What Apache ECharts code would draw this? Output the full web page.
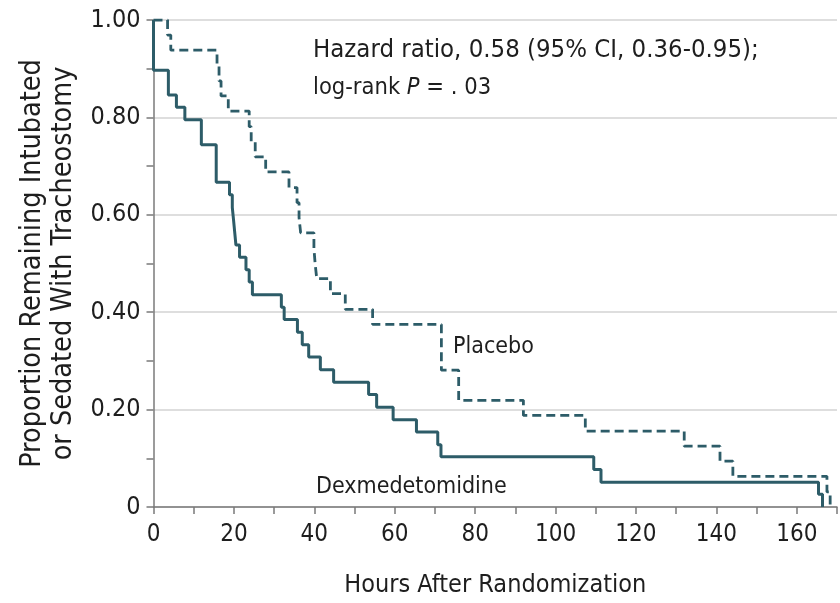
<!DOCTYPE html>
<html>
<head>
<meta charset="utf-8">
<script src="https://cdn.jsdelivr.net/npm/echarts@6/dist/echarts.min.js"></script>
<style>
  html, body { margin: 0; padding: 0; background: #fff; overflow: hidden; }
  #chart { width: 840px; height: 603px; }
</style>
</head>
<body>
<div id="chart"></div>
<script>
// Kaplan-Meier estimates: time of each step (hours) and proportion after that step
const dexTimes = [0, 0, 3.7, 5.7, 7.8, 11.9, 15.6, 18.9, 19.6, 19.9, 20.2, 20.5, 21.4, 23.0, 23.8, 24.6,
  31.8, 32.5, 35.8, 37.0, 38.6, 41.5, 44.8, 53.5, 55.5, 59.6, 65.4, 70.7, 71.5, 109.5, 111.3, 165.4, 166.4];
const dexSurv = [1.0, 0.897, 0.846, 0.821, 0.795, 0.744, 0.667, 0.641, 0.615, 0.590, 0.564, 0.538, 0.513, 0.487, 0.462, 0.436,
  0.410, 0.385, 0.359, 0.333, 0.308, 0.282, 0.256, 0.231, 0.205, 0.179, 0.154, 0.128, 0.103, 0.077, 0.051, 0.026, 0];

const plaTimes = [0, 3.5, 4.3, 15.8, 16.3, 16.8, 18.6, 23.8, 24.3, 25.3, 27.9, 33.7, 35.7, 36.2, 36.6,
  39.9, 40.2, 40.6, 44.0, 47.7, 54.5, 71.6, 75.9, 92.0, 107.4, 132.0, 140.9, 144.1, 167.5, 168.3];
const plaSurv = [1.0, 0.969, 0.938, 0.906, 0.875, 0.844, 0.813, 0.781, 0.750, 0.719, 0.688, 0.656, 0.625, 0.594, 0.563,
  0.531, 0.500, 0.469, 0.438, 0.406, 0.375, 0.281, 0.219, 0.188, 0.156, 0.125, 0.094, 0.063, 0.031, 0];

const xTitle = 'Hours After Randomization';
const yTitle = 'Proportion Remaining Intubated\nor Sedated With Tracheostomy';
const statLine1 = 'Hazard ratio, 0.58 (95% CI, 0.36-0.95);';
const groupNames = ['Dexmedetomidine', 'Placebo'];

const FONT = '"DejaVu Sans Condensed", "Liberation Sans Narrow", Roboto, sans-serif';
const LINE = '#2d5c68';
const AXIS = '#7a7a7a';
const TEXT = '#1e1e1e';

const zip = (t, s) => t.map((v, i) => [v, s[i]]);

const chart = echarts.init(document.getElementById('chart'), null, { renderer: 'canvas' });

chart.setOption({
  animation: false,
  backgroundColor: '#fff',
  textStyle: { fontFamily: FONT },
  grid: { left: 153.5, top: 20, width: 688.5, height: 491 },
  xAxis: {
    type: 'value', min: 0, max: 170, interval: 10,
    name: xTitle, nameLocation: 'middle', nameGap: 66,
    nameTextStyle: { fontSize: 25, color: TEXT, fontFamily: FONT },
    axisLine: { show: true, lineStyle: { color: AXIS, width: 1.5 } },
    axisTick: { show: true, length: 7, lineStyle: { color: AXIS, width: 1.5 } },
    axisLabel: {
      fontSize: 24, color: TEXT, margin: 16, fontFamily: FONT,
      formatter: v => (v % 20 === 0 && v <= 160) ? String(v) : ''
    },
    splitLine: { show: false }
  },
  yAxis: {
    type: 'value', min: 0, max: 1, interval: 0.2,
    name: yTitle, nameLocation: 'middle', nameGap: 63,
    nameTextStyle: { fontSize: 28.5, color: TEXT, lineHeight: 31, fontFamily: FONT },
    axisLine: { show: true, lineStyle: { color: AXIS, width: 1.5 } },
    axisTick: { show: true, length: 7, lineStyle: { color: AXIS, width: 1.5 } },
    minorTick: { show: true, splitNumber: 2, length: 7, lineStyle: { color: AXIS, width: 1.5 } },
    axisLabel: {
      fontSize: 25, color: TEXT, margin: 13, fontFamily: FONT,
      formatter: v => v === 0 ? '0' : v.toFixed(2)
    },
    splitLine: { show: true, lineStyle: { color: '#dedede', width: 2 } }
  },
  series: [
    {
      name: groupNames[1], type: 'line', step: 'end', symbol: 'none',
      data: zip(plaTimes, plaSurv),
      lineStyle: { color: LINE, width: 2.8, type: [9, 5] },
      z: 3
    },
    {
      name: groupNames[0], type: 'line', step: 'end', symbol: 'none',
      data: zip(dexTimes, dexSurv),
      lineStyle: { color: LINE, width: 3 },
      z: 4
    }
  ],
  graphic: [
    {
      type: 'text', left: 313, top: 37,
      style: { text: statLine1, font: '25.5px ' + FONT, fill: TEXT }
    },
    {
      type: 'text', left: 313, top: 76,
      style: {
        text: '{n|log-rank }{i|P}{n| = . 03}',
        rich: {
          n: { fontSize: 23.5, fontFamily: FONT, fill: TEXT },
          i: { fontSize: 23.5, fontFamily: FONT, fontStyle: 'italic', fill: TEXT }
        }
      }
    },
    {
      type: 'text', left: 453, top: 336,
      style: { text: groupNames[1], font: '23px ' + FONT, fill: TEXT }
    },
    {
      type: 'text', left: 316, top: 476,
      style: { text: groupNames[0], font: '23px ' + FONT, fill: TEXT }
    }
  ]
});
</script>
</body>
</html>
